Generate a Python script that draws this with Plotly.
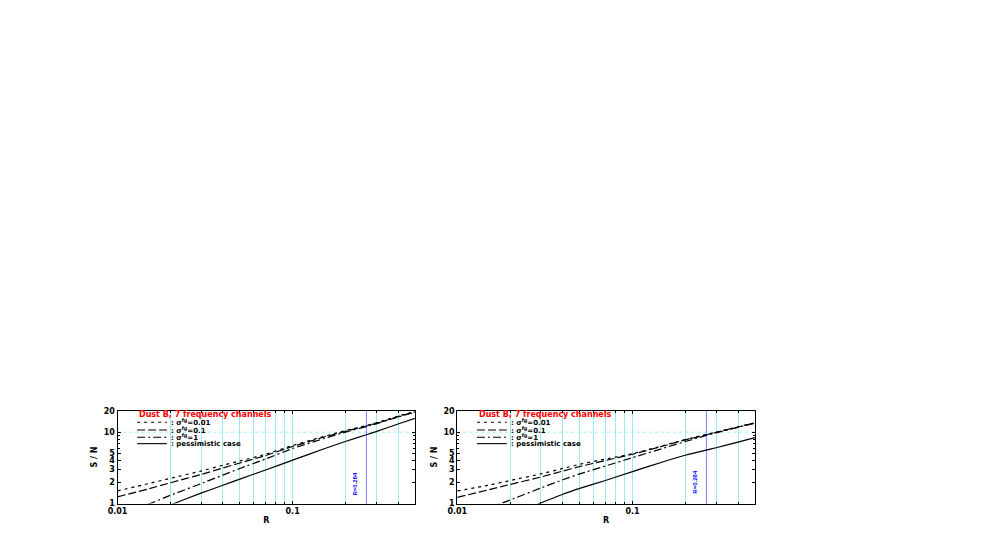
import math
import plotly.graph_objects as go

# ---------------- data ----------------
R = [0.01, 0.015, 0.02, 0.03, 0.04, 0.05, 0.07, 0.1, 0.15, 0.2, 0.264, 0.3, 0.4, 0.5]

# left panel
L_SIG001 = [1.5, 1.9, 2.25, 2.85, 3.45, 3.95, 4.9, 6.5, 8.7, 10.5, 12.4, 13.5, 16.8, 19.5]
L_SIG01 = [1.24, 1.6, 1.95, 2.55, 3.15, 3.7, 4.7, 6.3, 8.5, 10.3, 12.2, 13.3, 16.5, 19.3]
L_SIG1 = [0.7, 0.98, 1.3, 1.9, 2.5, 3.1, 4.2, 5.9, 8.1, 10.0, 12.0, 13.1, 16.3, 19.1]
L_PESS = [0.5, 0.72, 0.95, 1.4, 1.8, 2.2, 2.95, 4.05, 5.8, 7.4, 9.2, 10.2, 13.0, 15.6]

# right panel
R_SIG001 = [1.5, 1.8, 2.1, 2.6, 3.1, 3.55, 4.2, 5.0, 6.5, 7.9, 9.3, 10.0, 11.9, 13.6]
R_SIG01 = [1.22, 1.55, 1.85, 2.35, 2.85, 3.3, 4.0, 4.9, 6.4, 7.8, 9.2, 9.95, 11.8, 13.5]
R_SIG1 = [0.6, 0.86, 1.12, 1.65, 2.15, 2.6, 3.35, 4.4, 5.95, 7.4, 9.0, 9.8, 11.7, 13.4]
R_PESS = [0.3, 0.5, 0.68, 1.02, 1.35, 1.63, 2.1, 2.8, 3.85, 4.75, 5.6, 6.05, 7.25, 8.4]

SERIES_NAMES = [": σ<sup>fg</sup>=0.01", ": σ<sup>fg</sup>=0.1", ": σ<sup>fg</sup>=1", ": pessimistic case"]
LEGEND_TITLE = "Dust B, 7 frequency channels"
R_MARK = [0.264, 0.264]
R_MARK_LABELS = ["R=0.264", "R=0.264"]

X_MAJOR = [0.01, 0.1]
X_MAJOR_TEXT = ["0.01", "0.1"]
X_MINOR = [0.02, 0.03, 0.04, 0.05, 0.06, 0.07, 0.08, 0.09, 0.2, 0.3, 0.4]
Y_MAJOR = [1, 2, 3, 4, 5, 10, 20]
Y_MAJOR_TEXT = ["1", "2", "3", "4", "5", "10", "20"]
Y_MINOR = [6, 7, 8, 9]
Y_GRID = [10]

# ---------------- styles ----------------
DASHES = ["3px,4px", "8px,3px", "8px,3px,2px,3px", "solid"]
FONT = "DejaVu Sans"
W, H = 981, 545
OFF = 8  # page body margin
GRIDC = "rgb(150,236,240)"

panels = [
    dict(xd=[(117.5 - OFF) / W, (415 - OFF) / W], series=[L_SIG001, L_SIG01, L_SIG1, L_PESS], lab_y=0.22),
    dict(xd=[(457.3 - OFF) / W, (755 - OFF) / W], series=[R_SIG001, R_SIG01, R_SIG1, R_PESS], lab_y=0.24),
]
YD = [1 - (503.5 - OFF) / H, 1 - (410.7 - OFF) / H]

fig = go.Figure()
shapes = []
annotations = []

for i, p in enumerate(panels):
    sfx = "" if i == 0 else str(i + 1)
    xa, ya = "x" + sfx, "y" + sfx
    for ser, dash in zip(p["series"], DASHES):
        fig.add_trace(go.Scatter(
            x=R, y=ser, mode="lines", xaxis=xa, yaxis=ya, showlegend=False,
            line=dict(color="black", width=1.2, dash=dash, shape="spline", smoothing=0.5),
        ))
    axis_common = dict(showline=True, linecolor="black", linewidth=1, mirror="allticks",
                       ticks="inside", ticklen=3, tickcolor="black", automargin=False,
                       tickfont=dict(family=FONT, size=8, color="black", weight="bold"),
                       zeroline=False)
    fig.layout["xaxis" + sfx] = dict(
        type="log", domain=p["xd"], anchor=ya, range=[-2, -0.30103],
        tickvals=X_MAJOR, ticktext=X_MAJOR_TEXT, showgrid=True, gridcolor=GRIDC, gridwidth=1,
        minor=dict(tickvals=X_MINOR, ticks="inside", ticklen=2, tickcolor="black",
                   showgrid=True, gridcolor=GRIDC, gridwidth=1),
        title=dict(text="R", standoff=2, font=dict(family=FONT, size=8, color="black", weight="bold")),
        **axis_common)
    fig.layout["yaxis" + sfx] = dict(
        type="log", domain=YD, anchor=xa, range=[0, 1.30103],
        tickvals=Y_MAJOR, ticktext=Y_MAJOR_TEXT, showgrid=False,
        minor=dict(tickvals=Y_MINOR, ticks="inside", ticklen=2, tickcolor="black", showgrid=False),
        title=dict(text="S / N", standoff=4, font=dict(family=FONT, size=8, color="black", weight="bold")),
        **axis_common)

    # horizontal dotted grid
    for gy in Y_GRID:
        shapes.append(dict(type="line", xref=xa + " domain", yref=ya, x0=0, x1=1, y0=gy, y1=gy,
                           line=dict(color=GRIDC, width=1, dash="dot"), layer="below"))
    # R marker
    shapes.append(dict(type="line", xref=xa, yref=ya + " domain", x0=R_MARK[i], x1=R_MARK[i], y0=0, y1=1,
                       line=dict(color="blue", width=1, dash="1px,1px")))
    annotations.append(dict(xref=xa, yref=ya + " domain", x=math.log10(R_MARK[i]), y=p["lab_y"],
                            xshift=-11, xanchor="center", yanchor="middle",
                            text=R_MARK_LABELS[i], textangle=-90, showarrow=False,
                            font=dict(family="Liberation Sans", size=6, color="blue", weight="bold")))

    # manual legend
    annotations.append(dict(xref=xa + " domain", yref=ya + " domain", x=0.066, y=0.955,
                            xanchor="left", yanchor="middle", text=LEGEND_TITLE, showarrow=False,
                            font=dict(family=FONT, size=8, color="red", weight="bold")))
    rows = [0.875, 0.792, 0.714, 0.645]
    for name, dash, yy in zip(SERIES_NAMES, DASHES, rows):
        shapes.append(dict(type="line", xref=xa + " domain", yref=ya + " domain",
                           x0=0.066, x1=0.166, y0=yy, y1=yy,
                           line=dict(color="black", width=1.1, dash=dash)))
        annotations.append(dict(xref=xa + " domain", yref=ya + " domain", x=0.172, y=yy,
                                xanchor="left", yanchor="middle", text=name, showarrow=False,
                                font=dict(family=FONT, size=7, color="black", weight="bold")))

fig.update_layout(
    width=W, height=H, margin=dict(l=0, r=0, t=0, b=0, autoexpand=False),
    paper_bgcolor="white", plot_bgcolor="white",
    shapes=shapes, annotations=annotations, showlegend=False,
)

fig.write_html("out.html")
